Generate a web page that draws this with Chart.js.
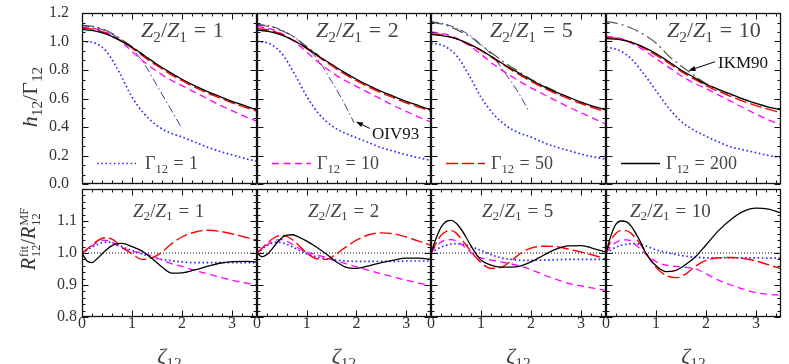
<!DOCTYPE html>
<html><head><meta charset="utf-8">
<script src="https://cdn.jsdelivr.net/npm/chart.js@4.4.1/dist/chart.umd.min.js"></script>
<style>
html,body{margin:0;padding:0;background:#fff}
body{width:789px;height:364px;position:relative;overflow:hidden}
canvas{position:absolute;left:0;top:0}
.t{position:absolute;white-space:nowrap;font-family:"Liberation Serif",serif;line-height:1;color:#444;transform:translateY(-50%)}
.t sub{font-size:0.7em;vertical-align:-0.3em;line-height:0}
.eq{margin:0 0.3em}
.rot{transform:translate(-50%,-50%) rotate(-90deg);color:#333}
.ss{display:inline-block;vertical-align:-0.42em;font-size:0.62em;line-height:0.95;text-align:left;margin-left:1px}
.ss span{display:block}
.ann{color:#111}
</style></head>
<body>
<script>
// ---------- data ----------
const ratios = ['1','2','5','10'];
const gammas = ['1','10','50','200'];

const xTop = [0,0.25,0.5,0.75,1,1.25,1.5,1.75,2,2.25,2.5,2.75,3,3.25,3.5];
// h12/Gamma12, Gamma12 = 1, 10, 50, 200 ; one row per panel (Z2/Z1 = 1,2,5,10)
const hG1 = [
 [1.00,0.99,0.925,0.78,0.61,0.49,0.41,0.36,0.33,0.295,0.26,0.23,0.205,0.18,0.16],
 [1.00,0.985,0.915,0.775,0.615,0.49,0.41,0.36,0.325,0.29,0.255,0.23,0.205,0.185,0.165],
 [0.99,0.97,0.905,0.77,0.61,0.49,0.41,0.36,0.33,0.29,0.26,0.235,0.21,0.19,0.175],
 [0.96,0.94,0.88,0.775,0.655,0.535,0.44,0.38,0.335,0.295,0.26,0.24,0.22,0.20,0.185]];
const hG10 = [
 [1.10,1.09,1.06,1.01,0.93,0.855,0.79,0.735,0.69,0.645,0.60,0.555,0.515,0.475,0.44],
 [1.105,1.09,1.055,1.00,0.925,0.85,0.785,0.73,0.685,0.64,0.595,0.55,0.51,0.47,0.435],
 [1.068,1.055,1.025,0.975,0.91,0.84,0.78,0.725,0.675,0.63,0.585,0.54,0.50,0.46,0.42],
 [1.035,1.025,0.99,0.94,0.88,0.82,0.76,0.71,0.67,0.625,0.58,0.535,0.49,0.45,0.415]];
const hG50 = [
 [1.095,1.085,1.055,1.01,0.955,0.89,0.83,0.775,0.725,0.68,0.64,0.605,0.57,0.54,0.51],
 [1.09,1.08,1.05,1.005,0.95,0.89,0.83,0.775,0.725,0.68,0.64,0.605,0.57,0.54,0.51],
 [1.055,1.045,1.02,0.98,0.935,0.88,0.825,0.77,0.72,0.675,0.635,0.60,0.565,0.535,0.505],
 [1.03,1.02,0.995,0.955,0.905,0.85,0.79,0.74,0.69,0.65,0.615,0.58,0.55,0.525,0.50]];
const hG200 = [
 [1.085,1.075,1.05,1.01,0.96,0.90,0.84,0.785,0.735,0.69,0.65,0.615,0.58,0.55,0.52],
 [1.08,1.07,1.045,1.005,0.955,0.895,0.84,0.785,0.735,0.69,0.65,0.615,0.58,0.55,0.52],
 [1.05,1.04,1.02,0.985,0.94,0.885,0.83,0.78,0.73,0.685,0.645,0.61,0.575,0.545,0.52],
 [1.02,1.015,0.995,0.96,0.915,0.86,0.80,0.75,0.70,0.665,0.63,0.595,0.565,0.54,0.52]];
// OIV93 (panels 1-3) and IKM90 (all panels)
const xOIV93 = [
 [0,0.25,0.5,0.75,1,1.25,1.5,1.75,2.0],
 [0,0.25,0.5,0.75,1,1.25,1.5,1.75,1.95],
 [0,0.25,0.5,0.75,1,1.25,1.5,1.75,1.95], []];
const hOIV93 = [
 [1.11,1.10,1.07,1.02,0.95,0.84,0.69,0.54,0.39],
 [1.12,1.11,1.08,1.03,0.955,0.86,0.72,0.57,0.43],
 [1.14,1.125,1.095,1.05,0.98,0.89,0.77,0.64,0.515], []];
const xIKM90 = [
 [0,0.25,0.5,0.75,1,1.25],
 [0,0.25,0.5,0.75,1,1.25],
 [0,0.25,0.5,0.75,1,1.25,1.5,1.75,2,2.25,2.5],
 [0,0.25,0.5,0.75,1,1.25,1.5,1.75,2,2.25,2.5,2.75,3]];
const hIKM90 = [
 [1.115,1.105,1.075,1.025,0.965,0.90],
 [1.115,1.105,1.075,1.03,0.965,0.90],
 [1.135,1.12,1.085,1.04,0.975,0.91,0.845,0.79,0.735,0.69,0.65],
 [1.14,1.125,1.095,1.05,0.99,0.90,0.83,0.765,0.705,0.66,0.625,0.595,0.565]];

const xBot = [0,0.1,0.2,0.3,0.4,0.5,0.6,0.7,0.8,1.0,1.2,1.4,1.6,1.8,2.0,2.25,2.5,2.75,3.0,3.25,3.5];
// R_fit / R_MF
const rG1 = [
 [1.0,1.009,1.018,1.026,1.032,1.034,1.032,1.027,1.02,1.008,0.997,0.987,0.98,0.976,0.972,0.97,0.97,0.97,0.97,0.97,0.97],
 [1.0,1.012,1.024,1.031,1.034,1.032,1.027,1.02,1.012,0.998,0.988,0.982,0.978,0.975,0.974,0.974,0.974,0.974,0.975,0.975,0.975],
 [1.0,1.01,1.018,1.024,1.028,1.029,1.028,1.025,1.02,1.008,0.995,0.985,0.98,0.977,0.977,0.978,0.979,0.98,0.98,0.98,0.98],
 [1.0,1.01,1.018,1.024,1.027,1.029,1.029,1.027,1.022,1.01,1.002,0.995,0.99,0.987,0.985,0.985,0.985,0.985,0.985,0.984,0.984]];
const rG10 = [
 [1.0,1.01,1.022,1.033,1.04,1.039,1.033,1.024,1.015,1.005,1.0,0.99,0.978,0.966,0.958,0.946,0.935,0.925,0.915,0.907,0.9],
 [1.0,1.012,1.025,1.035,1.041,1.042,1.037,1.028,1.018,1.003,0.995,0.985,0.975,0.966,0.957,0.946,0.935,0.925,0.915,0.906,0.898],
 [1.0,1.02,1.034,1.041,1.042,1.038,1.028,1.015,1.002,0.985,0.978,0.972,0.966,0.958,0.948,0.932,0.918,0.905,0.897,0.89,0.883],
 [1.0,1.02,1.033,1.04,1.041,1.038,1.025,1.01,0.996,0.973,0.962,0.958,0.955,0.95,0.935,0.915,0.9,0.887,0.876,0.871,0.868]];
const rG50 = [
 [1.0,1.012,1.025,1.037,1.046,1.048,1.043,1.032,1.018,0.998,0.98,0.985,1.003,1.03,1.05,1.065,1.071,1.068,1.06,1.05,1.04],
 [1.0,1.015,1.03,1.043,1.052,1.055,1.052,1.043,1.03,1.0,0.982,0.98,0.998,1.02,1.04,1.057,1.063,1.06,1.05,1.037,1.024],
 [1.0,1.03,1.055,1.067,1.07,1.063,1.045,1.025,1.005,0.97,0.952,0.955,0.975,1.0,1.015,1.021,1.02,1.012,1.003,0.993,0.982],
 [1.0,1.04,1.062,1.07,1.07,1.062,1.045,1.025,1.0,0.955,0.93,0.923,0.935,0.96,0.977,0.985,0.986,0.983,0.975,0.963,0.951]];
const rG200 = [
 [1.0,0.975,0.97,0.982,0.997,1.012,1.023,1.029,1.03,1.02,1.006,0.983,0.956,0.937,0.938,0.947,0.958,0.968,0.973,0.974,0.972],
 [1.0,0.988,0.995,1.012,1.032,1.048,1.056,1.057,1.053,1.037,1.018,0.996,0.972,0.955,0.952,0.96,0.97,0.978,0.984,0.984,0.98],
 [1.0,1.045,1.08,1.098,1.102,1.094,1.075,1.05,1.022,0.978,0.962,0.956,0.956,0.96,0.972,0.993,1.012,1.022,1.023,1.014,1.003],
 [1.0,1.055,1.09,1.1,1.098,1.085,1.06,1.032,0.998,0.96,0.942,0.946,0.965,0.99,1.025,1.07,1.105,1.13,1.14,1.137,1.125]];
const refX = [0,3.5], refY = [1,1];

// ---------- layout & styles ----------
const PX = [82,257,431,606,781];
const TOPROW = [13,184], BOTROW = [189,317];
const YAXW = 40, XAXH = 22;
const STY = {
  g1:  {borderColor:'#2a2aff',borderWidth:1.7,borderDash:[1.6,2.6]},
  g10: {borderColor:'#ff00ff',borderWidth:1.3,borderDash:[7,4.5]},
  g50: {borderColor:'#ff0000',borderWidth:1.4,borderDash:[12,4]},
  g200:{borderColor:'#000000',borderWidth:1.3,borderDash:[]},
  oiv: {borderColor:'#3a3a8c',borderWidth:1,borderDash:[8,3,1.5,3]},
  ikm: {borderColor:'#5a5a44',borderWidth:1.2,borderDash:[12,4,2,4]},
  ref: {borderColor:'#000000',borderWidth:1,borderDash:[1,2]}
};
const legendStyle = [STY.g1,STY.g10,STY.g50,STY.g200];

Chart.defaults.font.family = '"Liberation Serif", serif';
Chart.defaults.font.size = 16;
Chart.defaults.color = '#333';

function pts(xs,ys){ return xs.map((x,i)=>({x:x,y:ys[i]})); }
function ds(xs,ys,st,order){
  return Object.assign({data:pts(xs,ys),pointRadius:0,fill:false,
    cubicInterpolationMode:'monotone',order:order,borderCapStyle:'butt'}, st);
}

function framePlugin(cfg){
  return {id:'frame', afterDatasetsDraw(ch){
    const ctx=ch.ctx, a=ch.chartArea, xs=ch.scales.x, ys=ch.scales.y;
    ctx.save();
    if(cfg.legend){
      const st=cfg.legend;
      ctx.strokeStyle=st.borderColor; ctx.lineWidth=st.borderWidth; ctx.setLineDash(st.borderDash);
      const y=Math.round(a.bottom-21)+0.5;
      ctx.beginPath(); ctx.moveTo(a.left+15,y); ctx.lineTo(a.left+54,y); ctx.stroke();
    }
    ctx.setLineDash([]);
    ctx.strokeStyle='#111'; ctx.lineWidth=1;
    const L=Math.round(a.left)+0.5, R=Math.round(a.right)-0.5, T=Math.round(a.top)+0.5, B=Math.round(a.bottom)-0.5;
    ctx.beginPath();
    for(let i=0;i<=17;i++){
      const p=Math.round(xs.getPixelForValue(i*0.2))+0.5, len=(i%5===0)?6:3;
      ctx.moveTo(p,B); ctx.lineTo(p,B-len); ctx.moveTo(p,T); ctx.lineTo(p,T+len);
    }
    for(let i=0;i<=cfg.yN;i++){
      const p=Math.round(ys.getPixelForValue(cfg.yMin+i*cfg.yStep))+0.5, len=(i%cfg.yMaj===0)?6:3;
      ctx.moveTo(L,p); ctx.lineTo(L+len,p); ctx.moveTo(R,p); ctx.lineTo(R-len,p);
    }
    ctx.stroke();
    ctx.lineWidth=1.3;
    ctx.strokeRect(L,T,R-L,B-T);
    if(cfg.arrow){
      const ar=cfg.arrow;
      const x1=xs.getPixelForValue(ar.from[0]), y1=ys.getPixelForValue(ar.from[1]);
      const x2=xs.getPixelForValue(ar.to[0]), y2=ys.getPixelForValue(ar.to[1]);
      const ang=Math.atan2(y2-y1,x2-x1);
      ctx.strokeStyle='#000'; ctx.fillStyle='#000'; ctx.lineWidth=1;
      ctx.beginPath(); ctx.moveTo(x1,y1); ctx.lineTo(x2-5*Math.cos(ang),y2-5*Math.sin(ang)); ctx.stroke();
      ctx.beginPath(); ctx.moveTo(x2,y2);
      ctx.lineTo(x2-7*Math.cos(ang)+2.6*Math.sin(ang), y2-7*Math.sin(ang)-2.6*Math.cos(ang));
      ctx.lineTo(x2-7*Math.cos(ang)-2.6*Math.sin(ang), y2-7*Math.sin(ang)+2.6*Math.cos(ang));
      ctx.closePath(); ctx.fill();
    }
    ctx.restore();
  }};
}

function zeroPad(s){ s.paddingTop=0; s.paddingBottom=0; s.paddingLeft=0; s.paddingRight=0; }

function makeChart(i,row,datasets,extra){
  const c=document.createElement('canvas'); c.width=789; c.height=364;
  document.body.appendChild(c);
  const top=row===0;
  const rr=top?TOPROW:BOTROW;
  const showY=i===0, showX=!top;
  return new Chart(c,{type:'line',data:{datasets:datasets},
    options:{responsive:false,animation:false,events:[],devicePixelRatio:1,
      layout:{padding:{left:PX[i]-(showY?YAXW:0),right:789-PX[i+1],top:rr[0],bottom:364-rr[1]-(showX?XAXH:0)}},
      plugins:{legend:{display:false},tooltip:{enabled:false}},
      scales:{
        x:{type:'linear',min:0,max:3.5,grid:{display:false,drawTicks:false},border:{display:false},
           ticks:{display:showX,stepSize:1,includeBounds:false,autoSkip:false,maxRotation:0,minRotation:0,padding:-3,
                  callback:v=>String(v)},
           afterFit:s=>{s.height=showX?XAXH:0; zeroPad(s);}},
        y:{type:'linear',min:top?0:0.8,max:1.2,grid:{display:false,drawTicks:false},border:{display:false},
           ticks:{display:showY,stepSize:top?0.2:0.1,includeBounds:false,autoSkip:false,padding:top?13:5,
                  callback:v=>(!top && v>1.15)?'':v.toFixed(1)},
           afterFit:s=>{s.width=showY?YAXW:0; zeroPad(s);}}
      }},
    plugins:[framePlugin(extra)]});
}

function addText(html,left,top,cls,size){
  const d=document.createElement('div'); d.className='t '+(cls||''); d.innerHTML=html;
  d.style.left=left+'px'; d.style.top=top+'px'; d.style.fontSize=size+'px';
  document.body.appendChild(d); return d;
}
const zr=r=>`<i>Z</i><sub>2</sub>/<i>Z</i><sub>1</sub><span class="eq">=</span>${r}`;

for(let i=0;i<4;i++){
  // top row
  const tds=[
    ds(xTop,hG200[i],STY.g200,0),
    ds(xTop,hG50[i],STY.g50,1),
    ds(xTop,hG10[i],STY.g10,2),
    ds(xTop,hG1[i],STY.g1,3),
    ds(xIKM90[i],hIKM90[i],STY.ikm,5)];
  if(xOIV93[i].length) tds.push(ds(xOIV93[i],hOIV93[i],STY.oiv,4));
  const extraTop={yN:18,yMin:0,yStep:0.2/3,yMaj:3,legend:legendStyle[i]};
  if(i===1) extraTop.arrow={from:[2.27,0.39],to:[1.99,0.437]};
  if(i===3) extraTop.arrow={from:[2.18,0.858],to:[1.65,0.795]};
  makeChart(i,0,tds,extraTop);
  // bottom row
  const bds=[
    ds(xBot,rG200[i],STY.g200,0),
    ds(xBot,rG50[i],STY.g50,1),
    ds(xBot,rG10[i],STY.g10,2),
    ds(xBot,rG1[i],STY.g1,3),
    ds(refX,refY,STY.ref,6)];
  makeChart(i,1,bds,{yN:20,yMin:0.8,yStep:0.02,yMaj:5});

  // texts
  addText(zr(ratios[i]), PX[i]+(i===3?61:59), 30, '', 22);
  addText(zr(ratios[i]), PX[i]+(i===3?24:51), 210, '', 19);
  addText(`Γ<sub>12</sub><span class="eq">=</span>${gammas[i]}`, PX[i]+(i===0?63:60), 163, '', 18);
  const xt=addText(`<i>ζ</i><sub>12</sub>`, (PX[i]+PX[i+1])/2, 356, '', 22);
  xt.style.transform='translate(-50%,-50%)';
}
addText('OIV93', 372, 133, 'ann', 17);
addText('IKM90', 718, 62, 'ann', 17);
addText(`<i>h</i><sub>12</sub>/Γ<sub>12</sub>`, 30, 97, 'rot', 22);
addText(`<i>R</i><span class="ss"><span>fit</span><span>12</span></span>/<i>R</i><span class="ss"><span>MF</span><span>12</span></span>`, 30, 239, 'rot', 20);
</script>
</body></html>
